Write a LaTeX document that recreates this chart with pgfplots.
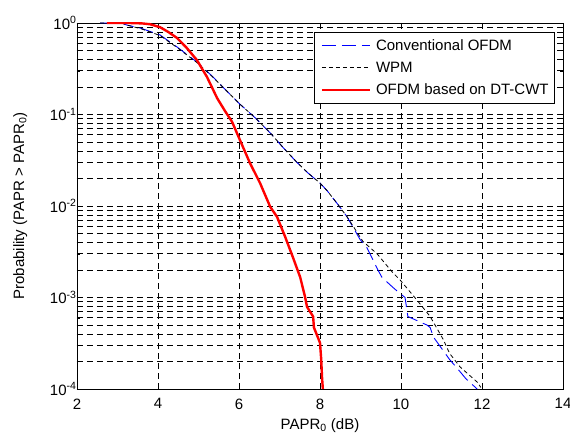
\documentclass[border=0pt]{standalone}
\usepackage{fontspec}
\setmainfont{Liberation Sans}
\usepackage{pgfplots}
\pgfplotsset{compat=1.18}
\begin{document}
\begin{tikzpicture}
\begin{axis}[
  scale only axis, width=486pt, height=366pt,
  ymode=log, log basis y=10,
  xmin=2, xmax=14, ymin=1e-4, ymax=1,
  xtick={2,4,...,14},
  ytick={1e-4,1e-3,1e-2,1e-1,1},
  minor ytick={2e-4,3e-4,4e-4,5e-4,6e-4,7e-4,8e-4,9e-4,
               2e-3,3e-3,4e-3,5e-3,6e-3,7e-3,8e-3,9e-3,
               2e-2,3e-2,4e-2,5e-2,6e-2,7e-2,8e-2,9e-2,
               0.2,0.3,0.4,0.5,0.6,0.7,0.8,0.9},
  yticklabel={10\textsuperscript{\pgfmathparse{int(round(\tick))}\pgfmathresult}},
  /pgf/number format/assume math mode=true,
  tick label style={font=\fontsize{15}{17}\selectfont},
  xticklabel style={yshift=-6pt},
  yticklabel style={xshift=3pt},
  label style={font=\fontsize{15}{17}\selectfont},
  xlabel={PAPR\textsubscript{0} (dB)},
  ylabel={Probability (PAPR > PAPR\textsubscript{0})},
  xlabel style={at={(axis description cs:0.5,-0.1)}, anchor=center},
  ylabel style={at={(axis description cs:-0.117,0.5)}, anchor=center},
  tick align=inside, major tick length=5pt, minor tick length=3pt,
  tick style={black, line width=0.6pt},
  grid=both,
  major grid style={black, line width=0.7pt, dash pattern=on 6pt off 4pt},
  minor grid style={black, line width=0.7pt, dash pattern=on 6pt off 4pt},
  axis line style={black, line width=0.8pt},
  legend cell align=left,
  legend style={at={(rel axis cs:0.9835,0.9754)}, anchor=north east,
    draw=black, line width=0.8pt, fill=white,
    font=\fontsize{15}{17}\selectfont,
    inner xsep=4pt, inner ysep=5pt, row sep=6pt},
  legend image code/.code={\draw[#1] (0pt,0pt) -- (48pt,0pt); \path (-2pt,0pt) (51pt,0pt);},
]
\addplot[blue, line width=0.9pt, dash pattern=on 14pt off 6pt] coordinates {
(2.57,1) (3.1,1) (3.23,0.95) (3.6,0.87) (4.05,0.74) (4.47,0.547) (4.96,0.375)
(5.36,0.257) (5.7,0.18) (6.02,0.13) (6.4,0.092) (6.77,0.063) (7.1,0.043)
(7.43,0.030) (7.7,0.023) (8.0,0.0178) (8.17,0.0148) (8.42,0.0107) (8.67,0.0076)
(8.99,0.0043) (9.16,0.0035) (9.43,0.0020) (9.53,0.00166) (9.80,0.00129)
(9.93,0.00115) (10.1,0.0010) (10.17,0.00062) (10.64,0.0005) (10.72,0.00047)
(10.8,0.00037) (11.2,0.00021) (11.38,0.00017) (11.6,0.00013) (11.88,0.0001)
};
\addlegendentry{Conventional OFDM}
\addplot[black, line width=0.8pt, dash pattern=on 4pt off 3pt] coordinates {
(2.57,1) (3.1,1) (3.23,0.95) (3.6,0.86) (4.05,0.73) (4.47,0.54) (4.96,0.37)
(5.36,0.255) (5.7,0.18) (6.02,0.13) (6.4,0.092) (6.77,0.063) (7.1,0.043)
(7.43,0.030) (7.7,0.023) (8.0,0.0178) (8.17,0.0148) (8.42,0.0107) (8.67,0.0076)
(9.06,0.0041) (9.41,0.0030) (9.8,0.00186) (9.98,0.00155) (10.4,0.00093)
(10.72,0.00062) (11.04,0.00035) (11.2,0.000245) (11.46,0.000174) (11.9,0.000117)
(11.97,0.000104)
};
\addlegendentry{WPM}
\addplot[red, line width=2.4pt] coordinates {
(2.74,1) (3.3,1) (3.6,0.99) (3.8,0.97) (4.05,0.90) (4.25,0.80) (4.47,0.686)
(4.7,0.54) (4.96,0.394) (5.21,0.257) (5.46,0.151) (5.65,0.11) (5.83,0.083)
(6.02,0.053) (6.27,0.0295) (6.52,0.0178) (6.77,0.0098) (6.94,0.0076)
(7.14,0.0046) (7.33,0.00276) (7.51,0.00167) (7.63,0.00102) (7.68,0.00079)
(7.83,0.00062) (7.85,0.00047) (8.0,0.00032) (8.03,0.00021) (8.05,0.000135)
(8.07,0.0001)
};
\addlegendentry{OFDM based on DT-CWT}
\end{axis}
\pgfresetboundingbox
\path ([shift={(-77pt,-49pt)}]current axis.south west) rectangle ([shift={(7pt,23pt)}]current axis.north east);
\end{tikzpicture}
\end{document}
